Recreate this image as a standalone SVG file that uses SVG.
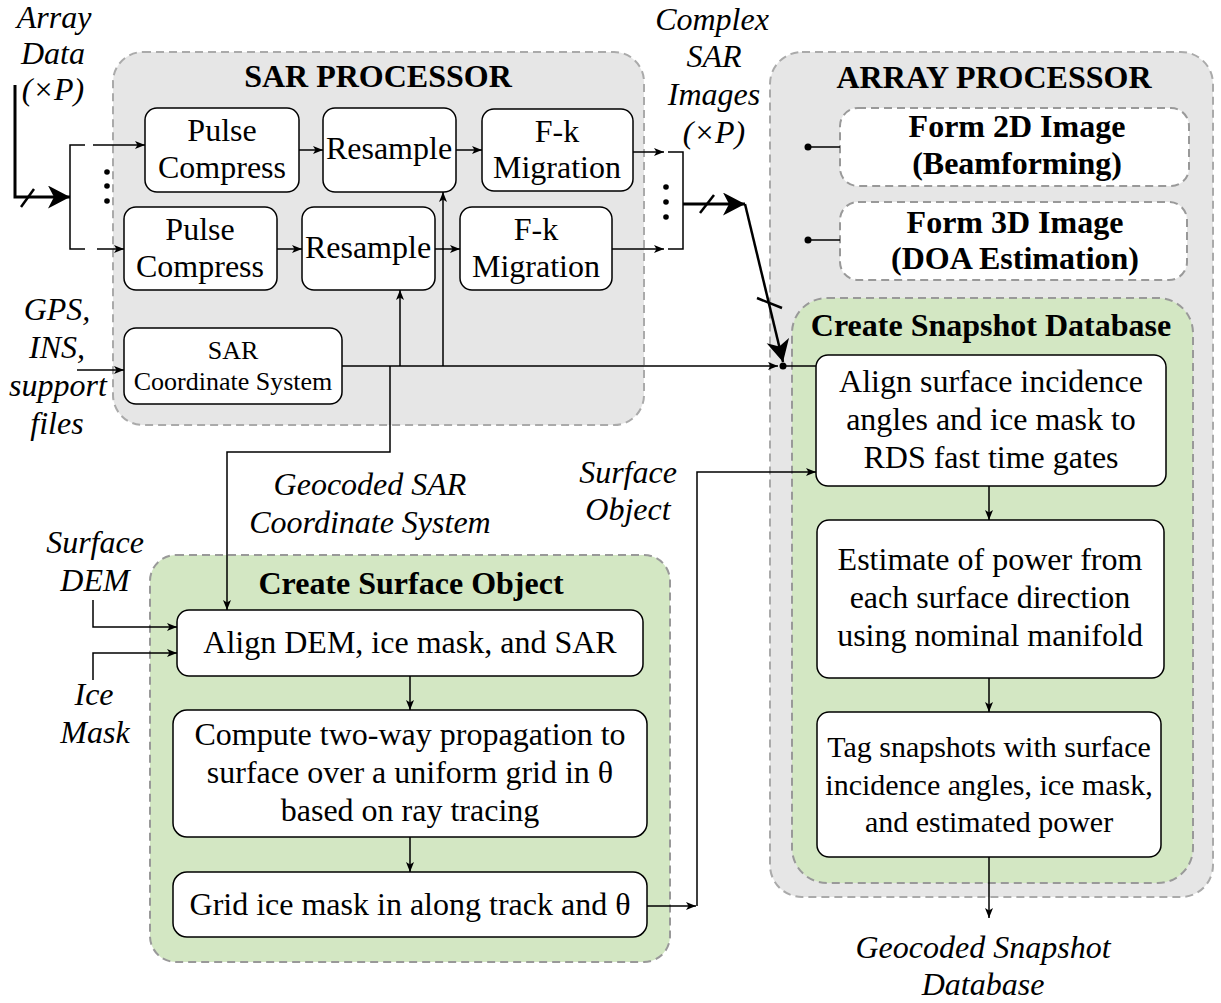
<svg xmlns="http://www.w3.org/2000/svg" width="1221" height="1003" viewBox="0 0 1221 1003">
<defs>
<marker id="a" markerUnits="userSpaceOnUse" markerWidth="11" markerHeight="9" refX="10" refY="4" orient="auto"><path d="M0,0 L10,4 L0,8 L2.5,4 z" fill="#000"/></marker>
<marker id="big" markerUnits="userSpaceOnUse" markerWidth="24" markerHeight="24" refX="22" refY="11.5" orient="auto"><path d="M0,0 L22,11.5 L0,23 L6,11.5 z" fill="#000"/></marker>
<style>
text{font-family:"Liberation Serif","Times New Roman",serif;font-size:32px;fill:#000;text-anchor:middle}
.it{font-style:italic}
.b{font-weight:bold}
.grp{fill:#e6e6e6;stroke:#aaa;stroke-width:2;stroke-dasharray:8 5}
.grn{fill:#d3e7c3;stroke:#999;stroke-width:2;stroke-dasharray:8 5}
.nd{fill:#fff;stroke:#000;stroke-width:1.5}
.dn{fill:#fff;stroke:#999;stroke-width:2;stroke-dasharray:8 5}
.c{fill:none;stroke:#000;stroke-width:1.5}
.t{fill:none;stroke:#000;stroke-width:3}
</style>
</defs>

<g id="sar-processor">
<rect class="grp" x="113" y="52" width="531" height="373" rx="30"/>
<text class="b" x="378" y="87">SAR PROCESSOR</text>
</g>
<g id="array-processor">
<rect class="grp" x="770" y="52" width="443" height="845" rx="32"/>
<text class="b" x="994" y="88">ARRAY PROCESSOR</text>
</g>
<g id="create-snapshot-database">
<rect class="grn" x="792" y="298" width="401" height="585" rx="35"/>
<text class="b" x="991" y="336">Create Snapshot Database</text>
</g>
<g id="create-surface-object">
<rect class="grn" x="150" y="555" width="520" height="407" rx="26"/>
<text class="b" x="411" y="594">Create Surface Object</text>
</g>

<g id="pulse-compress-1">
<rect class="nd" x="145" y="108" width="154" height="84" rx="12"/>
<text x="222" y="141">Pulse</text><text x="222" y="178">Compress</text>
</g>
<g id="resample-1">
<rect class="nd" x="323" y="108" width="133" height="84" rx="12"/>
<text x="389" y="159">Resample</text>
</g>
<g id="fk-migration-1">
<rect class="nd" x="482" y="109" width="151" height="82" rx="12"/>
<text x="557" y="142">F-k</text><text x="557" y="178">Migration</text>
</g>
<g id="pulse-compress-2">
<rect class="nd" x="124" y="207" width="153" height="83" rx="12"/>
<text x="200" y="240">Pulse</text><text x="200" y="277">Compress</text>
</g>
<g id="resample-2">
<rect class="nd" x="302" y="207" width="133" height="83" rx="12"/>
<text x="368" y="258">Resample</text>
</g>
<g id="fk-migration-2">
<rect class="nd" x="460" y="207" width="152" height="83" rx="12"/>
<text x="536" y="240">F-k</text><text x="536" y="277">Migration</text>
</g>
<g id="sar-coordinate-system">
<rect class="nd" x="124" y="328" width="218" height="76" rx="12"/>
<text x="233" y="359" style="font-size:26px">SAR</text><text x="233" y="390" style="font-size:26px">Coordinate System</text>
</g>
<g id="form-2d">
<rect class="dn" x="840" y="108" width="349" height="78" rx="18"/>
<text class="b" x="1017" y="137">Form 2D Image</text><text class="b" x="1017" y="174">(Beamforming)</text>
</g>
<g id="form-3d">
<rect class="dn" x="840" y="202" width="347" height="78" rx="18"/>
<text class="b" x="1015" y="233">Form 3D Image</text><text class="b" x="1015" y="269">(DOA Estimation)</text>
</g>
<g id="align-surface">
<rect class="nd" x="816" y="355" width="350" height="131" rx="12"/>
<text x="991" y="392">Align surface incidence</text><text x="991" y="430">angles and ice mask to</text><text x="991" y="468">RDS fast time gates</text>
</g>
<g id="estimate-power">
<rect class="nd" x="817" y="520" width="347" height="158" rx="12"/>
<text x="990" y="570">Estimate of power from</text><text x="990" y="608">each surface direction</text><text x="990" y="646">using nominal manifold</text>
</g>
<g id="tag-snapshots">
<rect class="nd" x="817" y="712" width="344" height="145" rx="12"/>
<text x="989" y="757" style="font-size:30px">Tag snapshots with surface</text><text x="989" y="795" style="font-size:30px">incidence angles, ice mask,</text><text x="989" y="832" style="font-size:30px">and estimated power</text>
</g>
<g id="align-dem">
<rect class="nd" x="177" y="610" width="466" height="66" rx="12"/>
<text x="410" y="653">Align DEM, ice mask, and SAR</text>
</g>
<g id="compute-propagation">
<rect class="nd" x="173" y="710" width="474" height="127" rx="14"/>
<text x="410" y="745">Compute two-way propagation to</text><text x="410" y="783">surface over a uniform grid in θ</text><text x="410" y="821">based on ray tracing</text>
</g>
<g id="grid-ice-mask">
<rect class="nd" x="173" y="872" width="474" height="65" rx="14"/>
<text x="410" y="915">Grid ice mask in along track and θ</text>
</g>

<g id="labels">
<text class="it" x="54" y="28">Array</text><text class="it" x="53" y="64">Data</text><text class="it" x="53" y="100">(×P)</text>
<text class="it" x="712" y="30">Complex</text><text class="it" x="714" y="67">SAR</text><text class="it" x="714" y="105">Images</text><text class="it" x="714" y="143">(×P)</text>
<text class="it" x="57" y="320">GPS,</text><text class="it" x="57" y="358">INS,</text><text class="it" x="58" y="396">support</text><text class="it" x="57" y="434">files</text>
<text class="it" x="370" y="495">Geocoded SAR</text><text class="it" x="370" y="533">Coordinate System</text>
<text class="it" x="95" y="553">Surface</text><text class="it" x="95" y="591">DEM</text>
<text class="it" x="94" y="705">Ice</text><text class="it" x="95" y="743">Mask</text>
<text class="it" x="628" y="483">Surface</text><text class="it" x="628" y="520">Object</text>
<text class="it" x="983" y="958">Geocoded Snapshot</text><text class="it" x="983" y="995">Database</text>
</g>

<g id="connectors">
<path class="t" d="M15,85 V197 H70" marker-end="url(#big)"/>
<line x1="21" y1="207" x2="34" y2="189" stroke="#000" stroke-width="2.5"/>
<path class="c" d="M85,145 H70 V249 H85"/>
<line class="c" x1="93" y1="145" x2="145" y2="145" marker-end="url(#a)"/>
<line class="c" x1="97" y1="249" x2="124" y2="249" marker-end="url(#a)"/>
<circle cx="107" cy="172" r="2.8"/><circle cx="107" cy="186" r="2.8"/><circle cx="107" cy="201" r="2.8"/>

<line class="c" x1="299" y1="150" x2="323" y2="150" marker-end="url(#a)"/>
<line class="c" x1="456" y1="150" x2="482" y2="150" marker-end="url(#a)"/>
<line class="c" x1="277" y1="249" x2="302" y2="249" marker-end="url(#a)"/>
<line class="c" x1="435" y1="249" x2="460" y2="249" marker-end="url(#a)"/>

<line class="c" x1="633" y1="152" x2="664" y2="152" marker-end="url(#a)"/>
<line class="c" x1="612" y1="249" x2="664" y2="249" marker-end="url(#a)"/>
<path class="c" d="M668,152 H683 V249 H668"/>
<circle cx="666" cy="187" r="2.8"/><circle cx="666" cy="202" r="2.8"/><circle cx="666" cy="217" r="2.8"/>
<line class="t" x1="683" y1="204" x2="745" y2="204" marker-end="url(#big)"/>
<line x1="700" y1="213" x2="714" y2="195" stroke="#000" stroke-width="2.5"/>
<line x1="745" y1="204" x2="783" y2="362" stroke="#000" stroke-width="2.5" marker-end="url(#big)"/>
<line x1="757" y1="298" x2="782" y2="308" stroke="#000" stroke-width="2.5"/>

<line class="c" x1="77" y1="370" x2="124" y2="370" marker-end="url(#a)"/>
<line class="c" x1="342" y1="366" x2="778" y2="366" marker-end="url(#a)"/>
<circle cx="783" cy="366" r="3.5"/>
<line class="c" x1="783" y1="366" x2="816" y2="366"/>
<line class="c" x1="400" y1="366" x2="400" y2="290" marker-end="url(#a)"/>
<line class="c" x1="443" y1="366" x2="443" y2="192" marker-end="url(#a)"/>
<path class="c" d="M390,366 V452 H227 V610" marker-end="url(#a)"/>

<circle cx="808" cy="147" r="3.5"/><line class="c" x1="808" y1="147" x2="840" y2="147"/>
<circle cx="808" cy="240" r="3.5"/><line class="c" x1="808" y1="240" x2="840" y2="240"/>

<path class="c" d="M93,600 V627 H177" marker-end="url(#a)"/>
<path class="c" d="M93,680 V653 H177" marker-end="url(#a)"/>
<line class="c" x1="410" y1="676" x2="410" y2="710" marker-end="url(#a)"/>
<line class="c" x1="410" y1="837" x2="410" y2="872" marker-end="url(#a)"/>
<line class="c" x1="647" y1="906" x2="696" y2="906" marker-end="url(#a)"/>
<path class="c" d="M697,906 V472 H816" marker-end="url(#a)"/>

<line class="c" x1="989" y1="486" x2="989" y2="520" marker-end="url(#a)"/>
<line class="c" x1="989" y1="678" x2="989" y2="712" marker-end="url(#a)"/>
<line class="c" x1="989" y1="857" x2="989" y2="918" marker-end="url(#a)"/>
</g>
</svg>
